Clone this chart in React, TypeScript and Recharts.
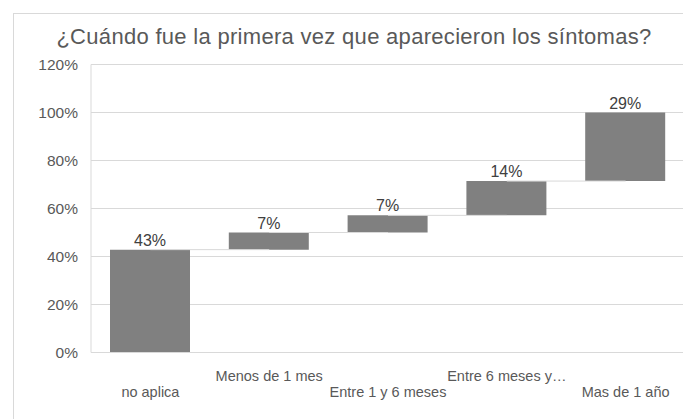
import React from "react";
import {
  BarChart,
  Bar,
  XAxis,
  YAxis,
  CartesianGrid,
  LabelList,
  ReferenceLine,
} from "recharts";

const categories = [
  "no aplica",
  "Menos de 1 mes",
  "Entre 1 y 6 meses",
  "Entre 6 meses y…",
  "Mas de 1 año",
];
const shares = [42.86, 7.14, 7.14, 14.29, 28.57];
const yTicks = [0, 20, 40, 60, 80, 100, 120];

const FONT = '"Liberation Sans", Arial, sans-serif';
const GRID = "#d9d9d9";
const TEXT = "#595959";

// waterfall: invisible base + visible step
const data = categories.map((name, i) => {
  const base = shares.slice(0, i).reduce((s, v) => s + v, 0);
  return { name, base, value: shares[i], top: base + shares[i] };
});

function StaggerTick(props: any) {
  const { x, y, payload, index } = props;
  const lower = index % 2 === 0;
  return (
    <text
      x={x}
      y={y + (lower ? 44.5 : 28)}
      textAnchor="middle"
      fill={TEXT}
      fontSize={14.5}
      fontFamily={FONT}
    >
      {payload.value}
    </text>
  );
}

export default function App() {
  return (
    <div
      style={{
        position: "absolute",
        left: 0,
        top: 0,
        width: 683,
        height: 419,
        overflow: "hidden",
        background: "#fff",
      }}
    >
      <div
        style={{
          position: "absolute",
          left: 13,
          top: 13,
          width: 720,
          height: 440,
          border: `1px solid ${GRID}`,
        }}
      />
      <div
        style={{
          position: "absolute",
          left: 354,
          top: 25.5,
          transform: "translateX(-50%)",
          whiteSpace: "nowrap",
          fontFamily: FONT,
          fontSize: 22,
          lineHeight: "22px",
          color: TEXT,
          letterSpacing: 0.3,
        }}
      >
        ¿Cuándo fue la primera vez que aparecieron los síntomas?
      </div>
      <div style={{ position: "absolute", left: 0, top: 0 }}>
        <BarChart
          width={700}
          height={419}
          data={data}
          margin={{ top: 64.5, right: 15, bottom: 6.5, left: 0 }}
          barSize={80}
        >
          <CartesianGrid stroke={GRID} vertical={false} />
          <XAxis
            dataKey="name"
            interval={0}
            height={60}
            tickSize={0}
            tickMargin={0}
            tickLine={false}
            axisLine={{ stroke: GRID }}
            tick={<StaggerTick />}
          />
          <YAxis
            domain={[0, 120]}
            ticks={yTicks}
            width={91}
            tickSize={0}
            tickMargin={13}
            tickLine={false}
            axisLine={{ stroke: GRID }}
            tickFormatter={(v: number) => `${v}%`}
            tick={{ fontSize: 15.5, fill: TEXT, fontFamily: FONT }}
          />
          {data.slice(0, -1).map((d, i) => (
            <ReferenceLine
              key={d.name}
              segment={[
                { x: d.name, y: d.top },
                { x: data[i + 1].name, y: d.top },
              ]}
              stroke={GRID}
              strokeWidth={1}
            />
          ))}
          <Bar dataKey="base" stackId="w" fill="transparent" isAnimationActive={false} />
          <Bar dataKey="value" stackId="w" fill="#808080" isAnimationActive={false}>
            <LabelList
              dataKey="value"
              position="top"
              offset={4}
              formatter={(v: any) => `${Math.round(Number(v))}%`}
              style={{ fontSize: 16, fill: "#404040", fontFamily: FONT }}
            />
          </Bar>
        </BarChart>
      </div>
    </div>
  );
}
